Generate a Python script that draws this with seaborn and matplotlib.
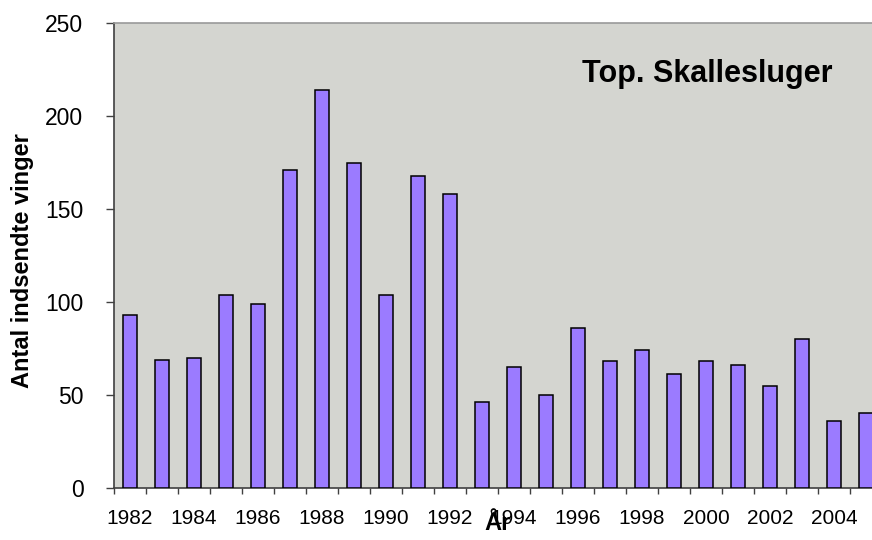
import matplotlib
matplotlib.use("Agg")
import matplotlib.pyplot as plt
import seaborn as sns
import pandas as pd

years = ["1982", "1983", "1984", "1985", "1986", "1987", "1988", "1989",
         "1990", "1991", "1992", "1993", "1994", "1995", "1996", "1997",
         "1998", "1999", "2000", "2001", "2002", "2003", "2004", "2005"]
counts = [93, 69, 70, 104, 99, 171, 214, 175, 104, 168, 158, 46,
          65, 50, 86, 68, 74, 61, 68, 66, 55, 80, 36, 40]
tick_labels = ["1982", "", "1984", "", "1986", "", "1988", "", "1990", "",
               "1992", "", "1994", "", "1996", "", "1998", "", "2000", "",
               "2002", "", "2004", ""]
y_ticks = [0, 50, 100, 150, 200, 250]

sns.set_theme(style="white")
plt.rcParams['font.family'] = ['Liberation Sans', 'DejaVu Sans']

df = pd.DataFrame({"year": years, "count": counts})

W, H = 872, 540
fig = plt.figure(figsize=(W / 100, H / 100), dpi=100)
fig.patch.set_facecolor("white")
x0, x1 = 114, 882
y_top, y_bot = 23.3, 487.7
ax = fig.add_axes([x0 / W, (H - y_bot) / H, (x1 - x0) / W, (y_bot - y_top) / H])
ax.set_facecolor("#D4D5D0")

sns.barplot(data=df, x="year", y="count", order=years, color="#9B7BFF",
            saturation=1, width=0.41, edgecolor="black", linewidth=1.1,
            ax=ax, zorder=3)

ax.set_xlim(-0.5, len(years) - 0.5)
ax.set_ylim(0, 250)
ax.set_yticks(y_ticks)
ax.set_yticklabels([str(v) for v in y_ticks], fontsize=16.5)

ax.set_xticks([i - 0.5 for i in range(len(years) + 1)])
ax.set_xticklabels([])
ax.set_xticks(range(len(years)), minor=True)
ax.set_xticklabels(tick_labels, minor=True, fontsize=15)
ax.tick_params(axis="x", which="major", direction="out", length=4.5,
               width=1, color="#404040", bottom=True, labelbottom=False)
ax.tick_params(axis="x", which="minor", length=0, pad=15.5, bottom=True,
               labelbottom=True, labelcolor="black")
ax.tick_params(axis="y", which="major", direction="out", length=6,
               width=1, color="#404040", left=True, pad=16, labelcolor="black")

for side in ["left", "bottom"]:
    ax.spines[side].set_color("#404040")
    ax.spines[side].set_linewidth(1.2)
for side in ["top", "right"]:
    ax.spines[side].set_color("#999999")
    ax.spines[side].set_linewidth(1.2)

ax.set_xlabel("År", fontsize=17, fontweight="bold", color="black")
ax.xaxis.set_label_coords(0.5, -0.052)
ax.set_ylabel("Antal indsendte vinger", fontsize=17, fontweight="bold", color="black")
ax.yaxis.set_label_coords(-0.104, 0.49)

ax.text(0.773, 0.8736, "Top. Skallesluger", transform=ax.transAxes,
        ha="center", va="baseline", fontsize=22, fontweight="bold", color="black")

fig.savefig("out.png", dpi=100)
